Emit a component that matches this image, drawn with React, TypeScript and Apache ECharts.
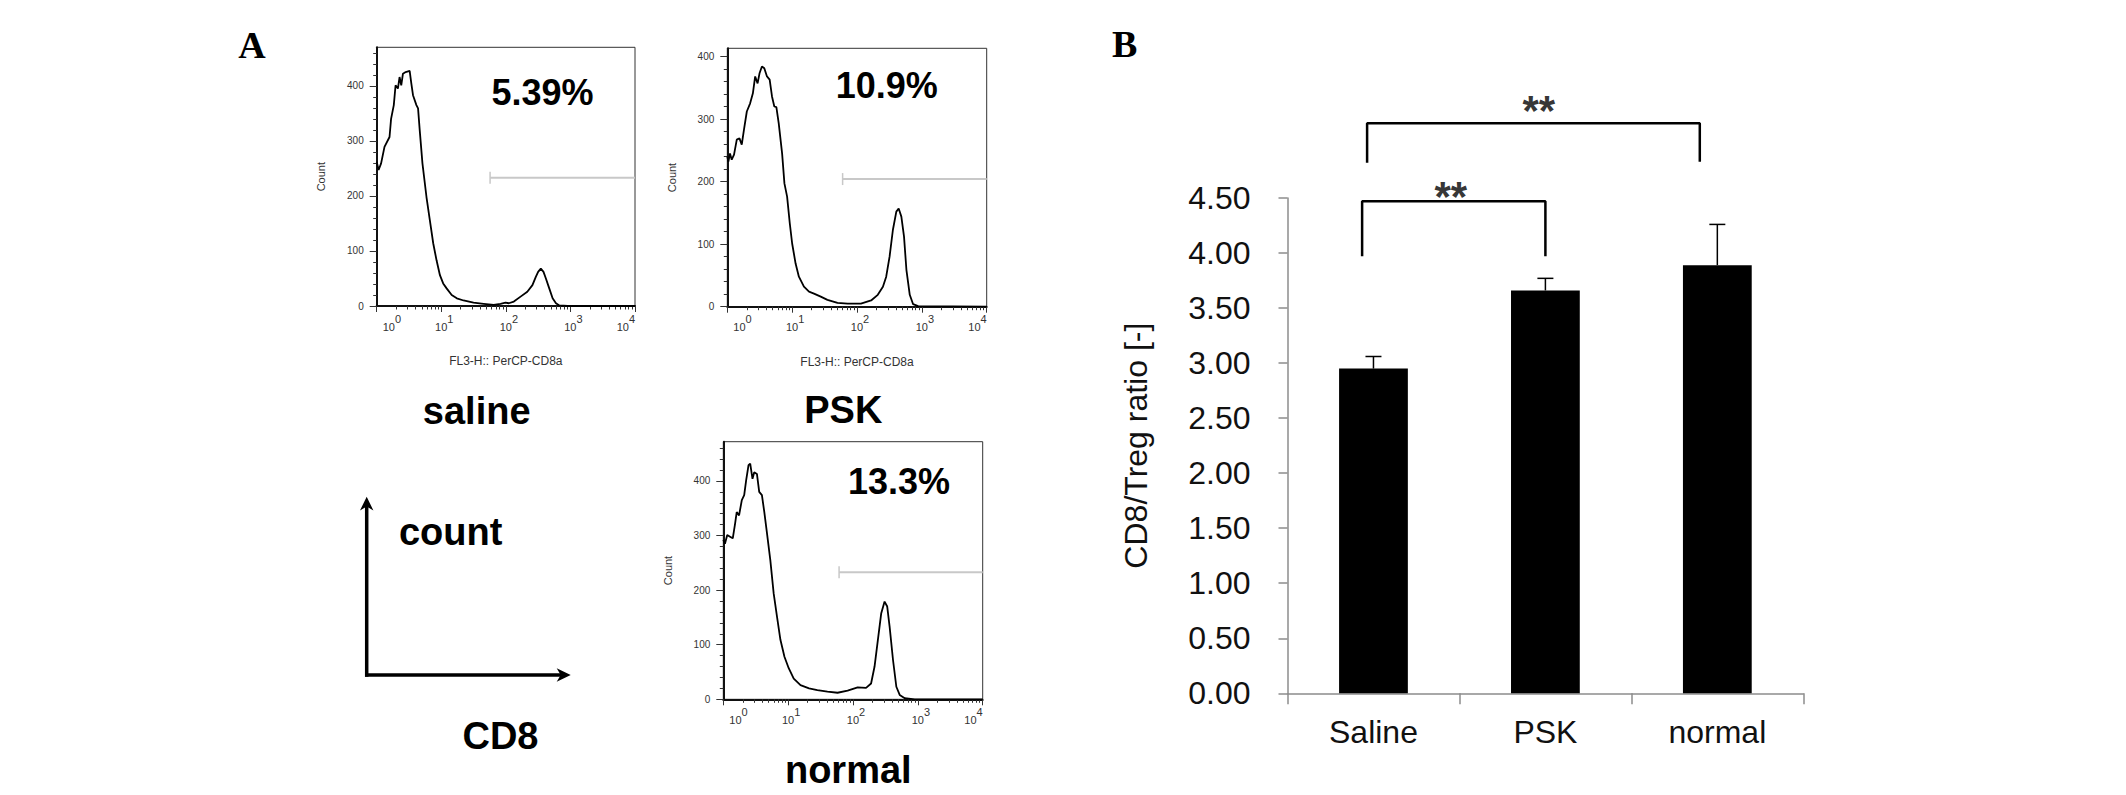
import React, { useEffect, useRef } from 'react';
import * as echarts from 'echarts';

// ---------- Panel A: flow-cytometry histograms (FL3 intensity, count) ----------
const salineHist: [number, number][] = [
  [1.0, 262], [1.07, 247], [1.17, 259], [1.32, 289], [1.58, 307], [1.67, 340], [1.84, 365],
  [1.96, 401], [2.13, 395], [2.26, 416], [2.4, 401], [2.55, 422], [2.81, 425], [3.24, 427],
  [3.44, 404], [3.65, 383], [4.12, 365], [4.37, 359], [4.64, 319], [5.11, 259], [5.9, 198],
  [6.65, 156], [7.5, 114], [8.45, 83], [9.53, 56], [10.7, 41], [12.1, 32], [14.5, 20],
  [17.4, 14], [22.1, 10], [31.6, 6], [45.3, 4], [64.9, 2], [82.5, 4], [98.8, 6], [111, 5],
  [133, 8], [169, 17], [215, 26], [258, 38], [291, 53], [316, 62], [348, 68], [383, 62],
  [417, 50], [470, 32], [530, 14], [597, 5], [673, 1], [908, 0], [10000, 0],
];
const pskHist: [number, number][] = [
  [1.0, 240], [1.04, 232], [1.1, 245], [1.17, 235], [1.27, 243], [1.4, 267], [1.54, 269],
  [1.67, 259], [1.82, 285], [2.0, 312], [2.25, 325], [2.48, 341], [2.69, 368], [2.93, 357],
  [3.14, 373], [3.42, 384], [3.72, 381], [4.09, 368], [4.5, 363], [4.89, 336], [5.31, 320],
  [5.71, 319], [6.21, 293], [7.0, 245], [7.6, 197], [8.36, 176], [9.2, 133], [10, 101],
  [11.3, 69], [12.7, 48], [15.2, 32], [18.2, 24], [21.7, 21], [27.6, 16], [35.0, 11],
  [50.1, 6], [71.6, 5], [115, 5], [165, 10], [209, 19], [251, 32], [282, 48], [318, 80],
  [358, 123], [404, 152], [439, 157], [483, 144], [531, 112], [578, 59], [651, 19],
  [733, 4], [877, 1], [10000, 0],
];
const normalHist: [number, number][] = [
  [1.0, 292], [1.06, 285], [1.15, 301], [1.27, 298], [1.4, 295], [1.52, 322], [1.61, 343],
  [1.75, 337], [1.93, 365], [2.1, 374], [2.25, 401], [2.45, 429], [2.6, 432], [2.82, 404],
  [3.0, 416], [3.3, 413], [3.58, 380], [3.94, 374], [4.29, 343], [4.72, 304], [5.31, 255],
  [5.98, 194], [6.74, 151], [7.6, 109], [8.77, 78], [10.2, 57], [12.2, 38], [15.5, 26],
  [21.0, 20], [28.2, 17], [40.4, 14], [57.8, 12], [82.6, 16], [118, 22], [159, 21],
  [190, 29], [215, 60], [242, 109], [272, 157], [307, 179], [337, 170], [367, 133],
  [414, 72], [466, 23], [525, 8], [628, 2], [898, 0], [10000, 0],
];

const groupNames = ['saline', 'PSK', 'normal'];
const percentLabels = ['5.39%', '10.9%', '13.3%'];
const countMax = [470, 413, 472];
const gateStarts = [57, 60, 61];
const gateLevels = [233, 204, 233];
const xAxisTitle = 'FL3-H:: PerCP-CD8a';
const yAxisTitle = 'Count';

const logMajorTicks = [1, 10, 100, 1000, 10000];
const logExponents = ['0', '1', '2', '3', '4'];
const logMinorTicks = [
  2, 3, 4, 5, 6, 7, 8, 9,
  20, 30, 40, 50, 60, 70, 80, 90,
  200, 300, 400, 500, 600, 700, 800, 900,
  2000, 3000, 4000, 5000, 6000, 7000, 8000, 9000,
];
const countMajorTicks = [0, 100, 200, 300, 400];
const countMinorTicks = [
  20, 40, 60, 80, 120, 140, 160, 180, 220, 240, 260, 280, 320, 340, 360, 380, 420, 440, 460,
];

// ---------- Panel B: CD8/Treg ratio ----------
const categories = ['Saline', 'PSK', 'normal'];
const ratioMeans = [2.95, 3.66, 3.89];
const ratioErrors = [0.11, 0.11, 0.37];
const ratioMin = 0;
const ratioMax = 4.5;
const ratioStep = 0.5;
const ratioTitle = 'CD8/Treg ratio [-]';

// significance brackets, x in category-index units, y in ratio units
const bracketFrom = [-0.066, -0.037];
const bracketTo = [1.0, 1.898];
const bracketTop = [4.47, 5.18];
const bracketLeftBottom = [3.97, 4.82];
const bracketRightBottom = [3.97, 4.83];
const starX = [0.45, 0.962];
const starY = [4.515, 5.294];
const starText = ['**', '**'];

// ---------- layout (pixels) ----------
const W = 2126;
const H = 795;
const histBoxes = [
  { left: 376.7, top: 47.3, right: 635, bottom: 306 },
  { left: 727.3, top: 48.3, right: 986.7, bottom: 306.7 },
  { left: 723.3, top: 441.7, right: 982.7, bottom: 699.3 },
];
const showXTitle = [true, true, false];
const percentPos = [
  [542.5, 92.3],
  [886.7, 85],
  [899, 481.7],
];
const groupNamePos = [
  [476.7, 411],
  [843.3, 410],
  [848.3, 769.5],
];
const barBox = { left: 1287.5, top: 198, right: 1803.3, bottom: 693.3 };

const SANS = '"Liberation Sans", Arial, sans-serif';
const SERIF = '"Liberation Serif", "Times New Roman", serif';

function buildOption(): any {
  const grid: any[] = [];
  const xAxis: any[] = [];
  const yAxis: any[] = [];
  const series: any[] = [];

  histBoxes.forEach((b, i) => {
    grid.push({
      left: b.left,
      top: b.top,
      width: b.right - b.left,
      height: b.bottom - b.top,
      show: true,
      borderColor: '#333',
      borderWidth: 1,
      backgroundColor: 'transparent',
      containLabel: false,
      outerBoundsMode: 'none',
    });
    const xMainIdx = xAxis.length;
    xAxis.push({
      type: 'log',
      logBase: 10,
      min: 1,
      max: 10000,
      gridIndex: i,
      position: 'bottom',
      axisLine: { show: true, onZero: false, lineStyle: { color: '#111', width: 2 } },
      axisTick: { show: true, length: 6, customValues: logMajorTicks, lineStyle: { color: '#333', width: 1 } },
      minorTick: { show: false },
      splitLine: { show: false },
      axisLabel: {
        show: true,
        customValues: logMajorTicks,
        margin: 7,
        alignMinLabel: 'left',
        alignMaxLabel: 'right',
        formatter: (v: number) => {
          const k = logMajorTicks.indexOf(v);
          return `{b|10}{s|${k >= 0 ? logExponents[k] : ''}}`;
        },
        rich: {
          b: { fontSize: 11, verticalAlign: 'bottom', padding: [0, 0, 0, 6], color: '#333', fontFamily: SANS },
          s: { fontSize: 11, verticalAlign: 'top', padding: [0, 0, 8, 0], color: '#333', fontFamily: SANS },
        },
      },
      name: showXTitle[i] ? xAxisTitle : '',
      nameLocation: 'middle',
      nameGap: 49,
      nameMoveOverlap: false,
      nameTextStyle: { fontSize: 12, color: '#333', fontFamily: SANS },
    });
    xAxis.push({
      type: 'log',
      logBase: 10,
      min: 1,
      max: 10000,
      gridIndex: i,
      position: 'bottom',
      axisLine: { show: false },
      axisTick: { show: true, length: 3.5, customValues: logMinorTicks, lineStyle: { color: '#333', width: 1 } },
      axisLabel: { show: false },
      splitLine: { show: false },
    });
    const yMainIdx = yAxis.length;
    yAxis.push({
      type: 'value',
      min: 0,
      max: countMax[i],
      gridIndex: i,
      position: 'left',
      axisLine: { show: true, onZero: false, lineStyle: { color: '#111', width: 2 } },
      axisTick: { show: true, length: 7, customValues: countMajorTicks, lineStyle: { color: '#333', width: 1 } },
      minorTick: { show: false },
      splitLine: { show: false },
      axisLabel: { show: true, customValues: countMajorTicks, margin: 13, fontSize: 10, color: '#333', fontFamily: SANS },
      name: yAxisTitle,
      nameLocation: 'middle',
      nameGap: 50,
      nameMoveOverlap: false,
      nameTextStyle: { fontSize: 11, color: '#333', fontFamily: SANS },
    });
    yAxis.push({
      type: 'value',
      min: 0,
      max: countMax[i],
      gridIndex: i,
      position: 'left',
      axisLine: { show: false },
      axisTick: {
        show: true,
        length: 3.5,
        customValues: countMinorTicks.filter((t) => t < countMax[i]),
        lineStyle: { color: '#333', width: 1 },
      },
      axisLabel: { show: false },
      splitLine: { show: false },
    });

    const histData = [salineHist, pskHist, normalHist][i];
    series.push({
      type: 'line',
      name: groupNames[i],
      xAxisIndex: xMainIdx,
      yAxisIndex: yMainIdx,
      data: histData,
      showSymbol: false,
      symbol: 'none',
      lineStyle: { color: '#000', width: 1.8 },
      z: 3,
    });
    series.push({
      type: 'custom',
      name: groupNames[i] + ' gate',
      xAxisIndex: xMainIdx,
      yAxisIndex: yMainIdx,
      data: [[gateStarts[i], gateLevels[i]]],
      renderItem: (params: any, api: any) => {
        const p = api.coord([api.value(0), api.value(1)]);
        const cs = params.coordSys;
        const right = cs.x + cs.width;
        return {
          type: 'group',
          children: [
            { type: 'line', shape: { x1: p[0], y1: p[1], x2: right, y2: p[1] }, style: { stroke: '#c8c8c8', lineWidth: 2 } },
            { type: 'line', shape: { x1: p[0], y1: p[1] - 6, x2: p[0], y2: p[1] + 6 }, style: { stroke: '#c8c8c8', lineWidth: 1.5 } },
          ],
        };
      },
      z: 2,
    });
  });

  // ---------- bar chart ----------
  const barGrid = grid.length;
  grid.push({
    left: barBox.left,
    top: barBox.top,
    width: barBox.right - barBox.left,
    height: barBox.bottom - barBox.top,
    show: false,
    containLabel: false,
    outerBoundsMode: 'none',
  });
  const barX = xAxis.length;
  xAxis.push({
    type: 'category',
    data: categories,
    gridIndex: barGrid,
    position: 'bottom',
    boundaryGap: true,
    axisLine: { show: true, onZero: false, lineStyle: { color: '#8c8c8c', width: 1.5 } },
    axisTick: { show: true, alignWithLabel: false, length: 11, lineStyle: { color: '#8c8c8c', width: 1.5 } },
    axisLabel: { show: true, fontSize: 32, color: '#111', margin: 23, fontFamily: SANS },
    splitLine: { show: false },
  });
  const overlayX = xAxis.length;
  xAxis.push({
    type: 'value',
    gridIndex: barGrid,
    min: -0.5,
    max: categories.length - 0.5,
    show: false,
    position: 'top',
  });
  const barY = yAxis.length;
  yAxis.push({
    type: 'value',
    gridIndex: barGrid,
    min: ratioMin,
    max: ratioMax,
    interval: ratioStep,
    position: 'left',
    axisLine: { show: true, onZero: false, lineStyle: { color: '#8c8c8c', width: 1.5 } },
    axisTick: { show: true, length: 9, lineStyle: { color: '#8c8c8c', width: 1.5 } },
    splitLine: { show: false },
    axisLabel: {
      show: true,
      fontSize: 32,
      color: '#111',
      margin: 37,
      fontFamily: SANS,
      formatter: (v: number) => v.toFixed(2),
    },
    name: ratioTitle,
    nameLocation: 'middle',
    nameGap: 136,
    nameMoveOverlap: false,
    nameTextStyle: { fontSize: 32, color: '#111', fontFamily: SANS },
  });

  series.push({
    type: 'bar',
    name: 'CD8/Treg ratio',
    xAxisIndex: barX,
    yAxisIndex: barY,
    data: ratioMeans,
    barWidth: '40%',
    itemStyle: { color: '#000' },
    z: 2,
  });
  series.push({
    type: 'custom',
    name: 'SD',
    xAxisIndex: barX,
    yAxisIndex: barY,
    data: ratioMeans.map((m, i) => [i, m, ratioErrors[i]]),
    encode: { x: 0, y: 1 },
    renderItem: (_params: any, api: any) => {
      const i = api.value(0);
      const m = api.value(1);
      const e = api.value(2);
      const base = api.coord([i, m]);
      const top = api.coord([i, m + e]);
      return {
        type: 'group',
        children: [
          { type: 'line', shape: { x1: base[0], y1: base[1], x2: top[0], y2: top[1] }, style: { stroke: '#000', lineWidth: 1.5 } },
          { type: 'line', shape: { x1: top[0] - 8, y1: top[1], x2: top[0] + 8, y2: top[1] }, style: { stroke: '#000', lineWidth: 1.5 } },
        ],
      };
    },
    z: 3,
  });
  bracketFrom.forEach((_, k) => {
    series.push({
      type: 'line',
      name: 'bracket ' + (k + 1),
      xAxisIndex: overlayX,
      yAxisIndex: barY,
      data: [
        [bracketFrom[k], bracketLeftBottom[k]],
        [bracketFrom[k], bracketTop[k]],
        [bracketTo[k], bracketTop[k]],
        [bracketTo[k], bracketRightBottom[k]],
      ],
      showSymbol: false,
      symbol: 'none',
      clip: false,
      lineStyle: { color: '#000', width: 2.5 },
      z: 4,
    });
  });
  series.push({
    type: 'scatter',
    name: 'significance',
    xAxisIndex: overlayX,
    yAxisIndex: barY,
    data: starX.map((x, k) => ({ value: [x, starY[k]], label: { formatter: starText[k] } })),
    symbolSize: 0,
    clip: false,
    label: {
      show: true,
      position: 'inside',
      fontSize: 42,
      fontWeight: 'bold',
      color: '#000',
      fontFamily: SANS,
    },
    z: 5,
  });

  // ---------- graphic annotations ----------
  const txt = (text: string, x: number, y: number, font: string) => ({
    type: 'text',
    style: { text, x, y, font, fill: '#000', align: 'center', verticalAlign: 'middle' },
  });
  const graphic: any[] = [
    txt('A', 252, 45, `bold 38px ${SERIF}`),
    txt('B', 1124.7, 44.2, `bold 38px ${SERIF}`),
  ];
  percentLabels.forEach((p, i) => {
    graphic.push(txt(p, percentPos[i][0], percentPos[i][1], `bold 36px ${SANS}`));
  });
  groupNames.forEach((g, i) => {
    graphic.push(txt(g, groupNamePos[i][0], groupNamePos[i][1], `bold 38px ${SANS}`));
  });
  graphic.push(txt('count', 450.7, 531.8, `bold 38px ${SANS}`));
  graphic.push(txt('CD8', 500.5, 736.1, `bold 38px ${SANS}`));
  // axes legend arrows
  graphic.push({ type: 'line', shape: { x1: 366.7, y1: 676.7, x2: 366.7, y2: 505 }, style: { stroke: '#000', lineWidth: 3.5 } });
  graphic.push({ type: 'line', shape: { x1: 365, y1: 675, x2: 562, y2: 675 }, style: { stroke: '#000', lineWidth: 3.5 } });
  graphic.push({
    type: 'polygon',
    shape: { points: [[366.7, 496.7], [360, 510.5], [366.7, 506.5], [373.4, 510.5]] },
    style: { fill: '#000' },
  });
  graphic.push({
    type: 'polygon',
    shape: { points: [[570.7, 675], [556.7, 668.3], [560.7, 675], [556.7, 681.7]] },
    style: { fill: '#000' },
  });

  return {
    animation: false,
    backgroundColor: '#fff',
    textStyle: { fontFamily: SANS },
    grid,
    xAxis,
    yAxis,
    series,
    graphic,
    tooltip: { show: false },
  };
}

export default function App() {
  const ref = useRef<HTMLDivElement>(null);
  useEffect(() => {
    if (!ref.current) return;
    const chart = echarts.init(ref.current, undefined, { renderer: 'svg' });
    chart.setOption(buildOption());
    return () => chart.dispose();
  }, []);
  return (
    <div
      ref={ref}
      style={{ position: 'absolute', left: 0, top: 0, width: W, height: H, background: '#fff' }}
    />
  );
}
